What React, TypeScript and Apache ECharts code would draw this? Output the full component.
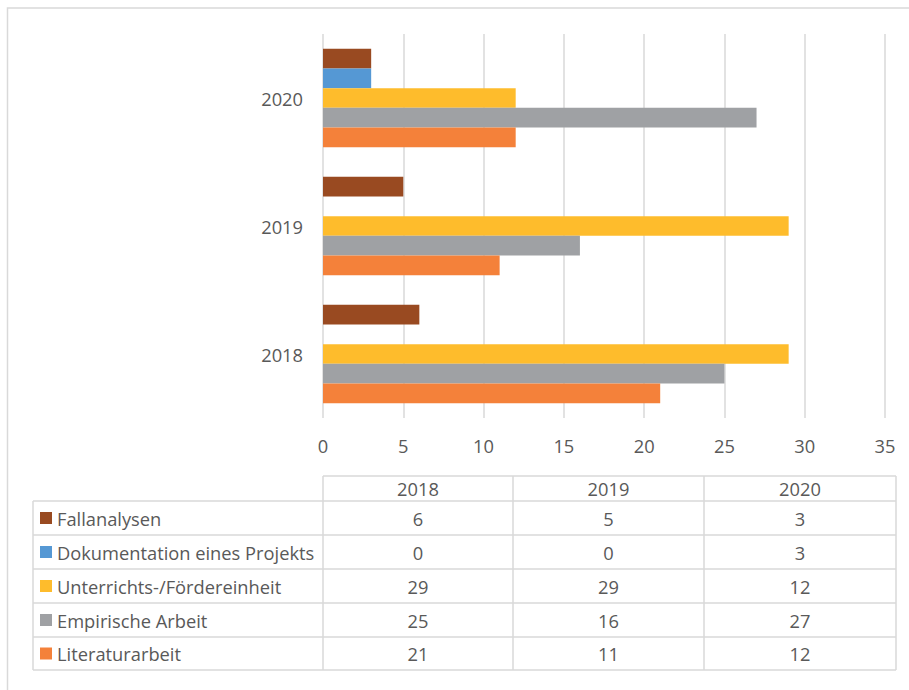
import React, { useEffect, useRef } from "react";
import * as echarts from "echarts";

const years = ["2018", "2019", "2020"];
const seriesNames = [
  "Fallanalysen",
  "Dokumentation eines Projekts",
  "Unterrichts-/Fördereinheit",
  "Empirische Arbeit",
  "Literaturarbeit",
];
const fallanalysen = [6, 5, 3];
const dokumentation = [0, 0, 3];
const unterricht = [29, 29, 12];
const empirisch = [25, 16, 27];
const literatur = [21, 11, 12];
const seriesValues = [fallanalysen, dokumentation, unterricht, empirisch, literatur];
const seriesColors = ["#994A21", "#5598D4", "#FEBC2C", "#9FA1A4", "#F4813A"];
const xTicks = { min: 0, max: 35, interval: 5 };

const FONT = "'Open Sans', 'Noto Sans', sans-serif";
const FS = 18.3;
const TEXT = "#595959";
const LINE = "#D9D9D9";

export default function App() {
  const ref = useRef<HTMLDivElement>(null);
  useEffect(() => {
    if (!ref.current) return;
    const chart = echarts.init(ref.current, null, { renderer: "svg" });

    const colX = [323, 513, 704, 896];
    const legendLeft = 33;
    const headerTop = 476;
    const rowY = [501, 535, 569, 603, 637, 670];
    const graphics: any[] = [];
    const ln = (x1: number, y1: number, x2: number, y2: number) => ({
      type: "line",
      shape: { x1, y1, x2, y2 },
      style: { stroke: LINE, lineWidth: 1.5 },
      silent: true,
    });
    graphics.push({
      type: "rect",
      shape: { x: 7.5, y: 8, width: 920, height: 720 },
      style: { stroke: LINE, lineWidth: 1.5, fill: "none" },
      silent: true,
    });
    graphics.push(ln(colX[0], headerTop, colX[3], headerTop));
    rowY.forEach((y) => graphics.push(ln(legendLeft, y, colX[3], y)));
    graphics.push(ln(legendLeft, rowY[0], legendLeft, rowY[5]));
    colX.forEach((x) => graphics.push(ln(x, headerTop, x, rowY[5])));
    years.forEach((yr, i) => {
      graphics.push({
        type: "text",
        x: (colX[i] + colX[i + 1]) / 2,
        y: (headerTop + rowY[0]) / 2,
        style: { text: yr, fill: TEXT, font: `${FS}px ${FONT}`, align: "center", verticalAlign: "middle" },
      });
    });
    seriesNames.forEach((name, r) => {
      const cy = (rowY[r] + rowY[r + 1]) / 2;
      graphics.push({
        type: "rect",
        shape: { x: 40, y: cy - 6, width: 12, height: 12 },
        style: { fill: seriesColors[r] },
      });
      graphics.push({
        type: "text",
        x: 57,
        y: cy,
        style: { text: name, fill: TEXT, font: `${FS}px ${FONT}`, align: "left", verticalAlign: "middle" },
      });
      seriesValues[r].forEach((v, i) => {
        graphics.push({
          type: "text",
          x: (colX[i] + colX[i + 1]) / 2,
          y: cy,
          style: { text: String(v), fill: TEXT, font: `${FS}px ${FONT}`, align: "center", verticalAlign: "middle" },
        });
      });
    });

    const series = seriesNames.map((name, r) => ({
      name,
      type: "bar",
      data: seriesValues[r],
      itemStyle: { color: seriesColors[r] },
      barGap: "0%",
      barCategoryGap: "23.08%",
    }));

    chart.setOption({
      animation: false,
      backgroundColor: "#fff",
      grid: { left: 323, right: 24, top: 34, bottom: 272, containLabel: false },
      xAxis: {
        type: "value",
        min: xTicks.min,
        max: xTicks.max,
        interval: xTicks.interval,
        axisLine: { show: false },
        axisTick: { show: false },
        splitLine: { show: true, lineStyle: { color: LINE, width: 1.5 } },
        axisLabel: { color: TEXT, fontSize: FS, fontFamily: FONT, margin: 18 },
      },
      yAxis: {
        type: "category",
        data: years,
        axisLine: { show: false },
        axisTick: { show: false },
        splitLine: { show: false },
        axisLabel: { color: TEXT, fontSize: FS, fontFamily: FONT, margin: 20 },
      },
      series,
      graphic: graphics,
    });
    return () => chart.dispose();
  }, []);
  return (
    <div
      ref={ref}
      style={{ position: "fixed", left: 0, top: 0, width: 909, height: 690 }}
    />
  );
}
